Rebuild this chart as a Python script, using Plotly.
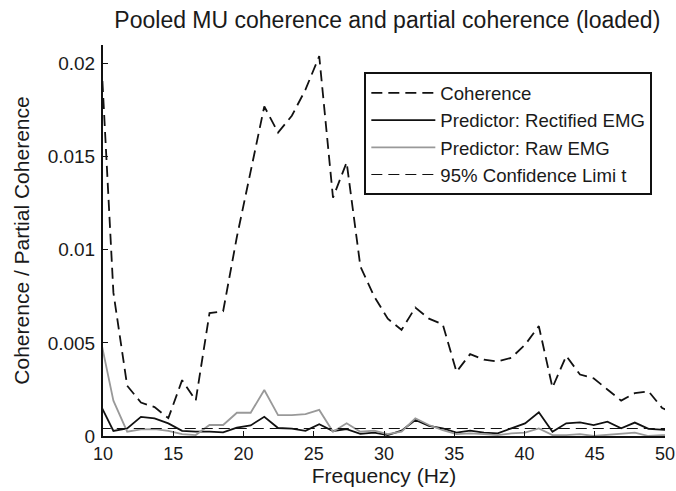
import plotly.graph_objects as go

freq = [9.77, 10.74, 11.72, 12.70, 13.67, 14.65, 15.63, 16.60, 17.58, 18.55,
        19.53, 20.51, 21.48, 22.46, 23.44, 24.41, 25.39, 26.37, 27.34, 28.32,
        29.30, 30.27, 31.25, 32.23, 33.20, 34.18, 35.16, 36.13, 37.11, 38.09,
        39.06, 40.04, 41.02, 41.99, 42.97, 43.95, 44.92, 45.90, 46.88, 47.85,
        48.83, 49.80, 50.78]

coherence = [0.0218, 0.0077, 0.0027, 0.0018, 0.00155, 0.00096, 0.0030, 0.0019, 0.0066, 0.0067,
             0.0107, 0.0142, 0.0177, 0.0163, 0.0172, 0.0186, 0.0204, 0.0128, 0.0147, 0.0091,
             0.0075, 0.0063, 0.0057, 0.0069, 0.0063, 0.0060, 0.00345, 0.0044, 0.0041, 0.0040,
             0.0042, 0.0049, 0.0059, 0.0026, 0.0043, 0.0033, 0.0031, 0.0025, 0.0019, 0.0023,
             0.0024, 0.0015, 0.0012]

rectified = [0.00175, 0.00027, 0.00041, 0.00103, 0.00095, 0.00068, 0.00028, 0.00023, 0.00023, 0.00020,
             0.00045, 0.00057, 0.00103, 0.00043, 0.00040, 0.00028, 0.00063, 0.00027, 0.00037, 0.00011,
             0.00018, 0.00005, 0.00029, 0.00086, 0.00055, 0.00041, 0.00018, 0.00029, 0.00018, 0.00014,
             0.00041, 0.00068, 0.00127, 0.00023, 0.00068, 0.00073, 0.00059, 0.00077, 0.00041, 0.00072,
             0.00038, 0.00032, 0.00030]

raw = [0.0054, 0.0019, 0.00023, 0.00036, 0.00037, 0.00028, 0.00010, 0.00005, 0.00059, 0.00059,
       0.00125, 0.00125, 0.00247, 0.00112, 0.00112, 0.00118, 0.00140, 0.00023, 0.00068, 0.00023,
       0.00029, 0.00010, 0.00023, 0.00095, 0.00059, 0.00032, 0.00010, 0.00014, 0.00010, 0.00005,
       0.00014, 0.00018, 0.00041, 0.00005, 0.00005, 0.00010, 0.0, 0.00005, 0.00010, 0.00018,
       0.0, 0.00005, 0.00005]

conf_x = [9.77, 50.78]
conf_limit = [0.0004, 0.0004]

x_ticks = [10, 15, 20, 25, 30, 35, 40, 45, 50]
y_ticks = [0, 0.005, 0.01, 0.015, 0.02]
y_tick_labels = ["0", "0.005", "0.01", "0.015", "0.02"]

FONT = "Liberation Sans, Arial, Helvetica, sans-serif"

fig = go.Figure()
fig.add_trace(go.Scatter(x=freq, y=coherence, mode="lines", name="Coherence",
                         line=dict(color="#111111", width=1.8, dash="11px,6px")))
fig.add_trace(go.Scatter(x=freq, y=rectified, mode="lines", name="Predictor: Rectified EMG",
                         line=dict(color="#111111", width=1.8)))
fig.add_trace(go.Scatter(x=freq, y=raw, mode="lines", name="Predictor: Raw EMG",
                         line=dict(color="#999999", width=1.8)))
fig.add_trace(go.Scatter(x=conf_x, y=conf_limit, mode="lines", name="95% Confidence Limi t",
                         line=dict(color="#111111", width=1.1, dash="11px,6px")))

fig.update_layout(
    width=676, height=491,
    margin=dict(l=103, r=11, t=45, b=55, autoexpand=False),
    paper_bgcolor="white", plot_bgcolor="white",
    font=dict(family=FONT, size=19, color="#1a1a1a"),
    title=dict(text="Pooled MU coherence and partial coherence (loaded)",
               x=0.573, xanchor="center", y=0.96, yanchor="middle",
               font=dict(size=23)),
    showlegend=True,
    legend=dict(x=0.465, y=0.93, xanchor="left", yanchor="top",
                bgcolor="white", bordercolor="#111111", borderwidth=2,
                font=dict(size=18.6), itemwidth=64, tracegroupgap=0,
                traceorder="normal"),
    xaxis=dict(range=[10, 50], tickmode="array", tickvals=x_ticks,
               ticks="inside", ticklen=5, tickwidth=1.2, tickcolor="#111111",
               showline=True, linecolor="#111111", linewidth=2,
               showgrid=False, zeroline=False, mirror=False,
               ticklabeloverflow="allow", automargin=False,
               title=dict(text="Frequency (Hz)", standoff=2, font=dict(size=21)),
               tickfont=dict(size=18)),
    yaxis=dict(range=[0, 0.021], tickmode="array", tickvals=y_ticks, ticktext=y_tick_labels,
               ticks="inside", ticklen=5, tickwidth=1.2, tickcolor="#111111",
               showline=True, linecolor="#111111", linewidth=2,
               showgrid=False, zeroline=False, mirror=False,
               ticklabelstandoff=2, automargin=False,
               title=dict(text="Coherence / Partial Coherence", standoff=12, font=dict(size=21)),
               tickfont=dict(size=19)),
)

fig.write_html("out.html", config={"displayModeBar": False},
               post_script="document.body.style.margin='0';")
